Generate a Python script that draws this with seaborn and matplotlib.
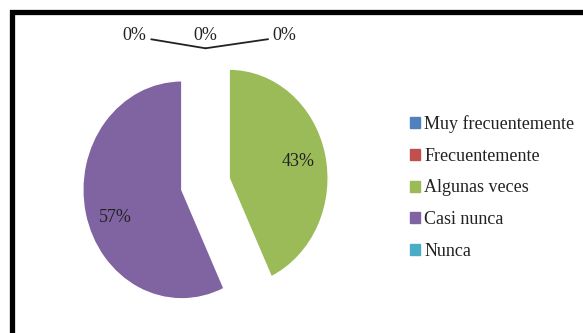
import matplotlib
matplotlib.use("Agg")
import matplotlib.pyplot as plt
import matplotlib.patches as mpatches
import seaborn as sns

# data
categories = ["Muy frecuentemente", "Frecuentemente", "Algunas veces", "Casi nunca", "Nunca"]
values = [0, 0, 43, 57, 0]
colors = ["#4F81BD", "#C0504D", "#9BBB59", "#8064A2", "#4BACC6"]

sns.set_theme(style="white")
plt.rcParams['font.family'] = ['Liberation Serif', 'DejaVu Serif']

W, H = 583, 333
fig = plt.figure(figsize=(W / 100, H / 100), dpi=100)
ax = fig.add_axes([0, 0, 1, 1])

def pct(p):
    return "%.0f%%" % p if p > 0.5 else ""

wedges, texts, autotexts = ax.pie(values, colors=colors, startangle=90, counterclock=False,
                                  explode=[0.245] * len(values), autopct=pct, pctdistance=0.71,
                                  textprops=dict(fontsize=13, color="#222222"))

# Excel put the 57% a little lower than the mid-angle spot
x57, y57 = autotexts[3].get_position()
autotexts[3].set_position((x57 + 0.02, y57 - 0.1))

# elliptical pie like the original (stretched vertically)
cx, cy, rx, ry = 205.5, 184, 99, 109
ax.set_aspect("auto")
ax.set_xlim(-cx / rx, (W - cx) / rx)
ax.set_ylim(-(H - cy) / ry, cy / ry)
ax.axis("off")

# labels for the empty slices, all stacked at the top of the pie
zero = [i for i, v in enumerate(values) if v == 0]
top = wedges[zero[0]]
tx, ty = top.center[0], top.center[1] + top.r
offs = [(-51, 9.5), (0, 9.5), (57, 9.5)]
for k, i in enumerate(zero):
    ox, oy = offs[k]
    if k == 1:
        ax.annotate("%d%%" % values[i], xy=(tx, ty), xytext=(ox, oy), textcoords="offset points",
                    ha="center", va="center", fontsize=13, color="#222222")
    else:
        rel = (1.0, 0.3) if ox < 0 else (0.0, 0.3)
        ax.annotate("%d%%" % values[i], xy=(tx, ty), xytext=(ox, oy), textcoords="offset points",
                    ha="center", va="center", fontsize=13, color="#222222",
                    arrowprops=dict(arrowstyle="-", color="#222222", lw=1.3,
                                    shrinkA=1, shrinkB=0, relpos=rel))

# legend
handles = [mpatches.Patch(color=c) for c in colors]
fig.legend(handles, categories, loc="upper left", bbox_to_anchor=(410 / W, 1 - 115 / H),
           frameon=False, borderpad=0, borderaxespad=0, fontsize=13,
           handlelength=0.55, handleheight=0.55, handletextpad=0.25, labelspacing=0.82,
           labelcolor="#222222")

# thick black frame (only top and left visible in the crop)
frame = mpatches.Rectangle((11.5 / W, -0.2), 1.5, 1.2 - 11.5 / H, transform=fig.transFigure,
                           fill=False, edgecolor="black", lw=3.8, clip_on=False)
fig.add_artist(frame)

fig.savefig("out.png", dpi=100)
